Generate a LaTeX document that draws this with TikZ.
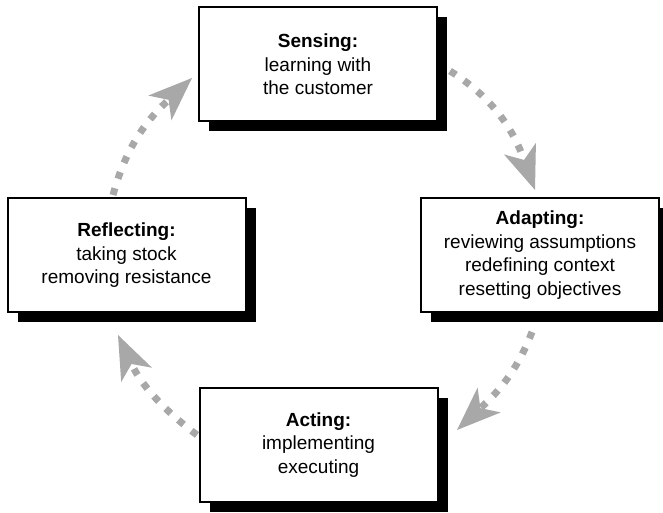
\documentclass[tikz,border=0pt]{standalone}
\usepackage{fontspec}
\setmainfont{Liberation Sans}
\usetikzlibrary{arrows.meta,shadows}
\definecolor{arrowgray}{RGB}{168,168,168}
\begin{document}
\begin{tikzpicture}[x=1pt,y=1pt,
  stage/.style={draw=black, line width=2pt, fill=white, minimum width=238pt,
    minimum height=114pt, inner sep=0pt, align=center,
    font=\fontsize{19}{23.5}\selectfont,
    general shadow={fill=black, shadow xshift=10pt, shadow yshift=-10pt}},
  cyclearrow/.style={draw=arrowgray, line width=7pt, line cap=butt,
    dash pattern=on 7pt off 10pt,
    -{Stealth[length=44pt,width=34pt,inset=12pt,line width=0pt 0 0]}}]
\useasboundingbox (0,0) rectangle (663,513);

\node[stage] (sensing) at (318,448.5) {\textbf{Sensing:}\\learning with\\the customer};
\node[stage] (adapting) at (540,258) {\textbf{Adapting:}\\reviewing assumptions\\redefining context\\resetting objectives};
\node[stage] (reflecting) at (126.5,257.5) {\textbf{Reflecting:}\\taking stock\\removing resistance};
\node[stage] (acting) at (318.5,68) {\textbf{Acting:}\\implementing\\executing};

\coordinate (a1s) at (450,442);
\coordinate (a1t) at (535,323);
\coordinate (a2s) at (532,181);
\coordinate (a2t) at (457,83);
\coordinate (a3s) at (197,78);
\coordinate (a3t) at (118,178);
\coordinate (a4s) at (113,318);
\coordinate (a4t) at (192,435);

\draw[cyclearrow] (a1s) to[out=-32,in=110] (a1t);
\draw[cyclearrow] (a2s) to[out=-111,in=43] (a2t);
\draw[cyclearrow] (a3s) to[out=143,in=-65] (a3t);
\draw[cyclearrow] (a4s) to[out=75,in=-137] (a4t);
\end{tikzpicture}
\end{document}
